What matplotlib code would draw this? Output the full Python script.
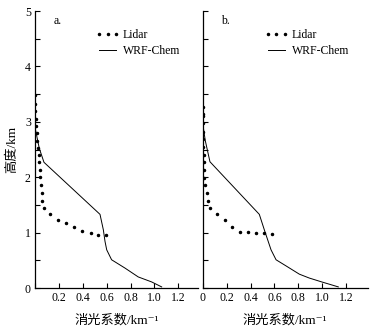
import matplotlib.pyplot as plt
import numpy as np

plt.rcParams['font.family'] = ['Liberation Serif', 'Noto Sans CJK SC', 'DejaVu Serif']

# panel a
lidar_a_x = [0.003, 0.003, 0.004, 0.006, 0.01, 0.014, 0.02, 0.026, 0.032, 0.036, 0.044, 0.044,
             0.05, 0.056, 0.059, 0.072, 0.128, 0.195, 0.259, 0.329, 0.396, 0.465, 0.53, 0.594]
lidar_a_y = [3.48, 3.33, 3.2, 3.06, 2.93, 2.8, 2.66, 2.53, 2.4, 2.27, 2.13, 2.0,
             1.86, 1.71, 1.58, 1.44, 1.33, 1.23, 1.17, 1.11, 1.03, 0.99, 0.96, 0.95]
wrf_a_x = [0.0, 0.036, 0.075, 0.544, 0.572, 0.586, 0.6, 0.641, 0.753, 0.864, 0.976, 1.06]
wrf_a_y = [2.9, 2.52, 2.27, 1.33, 1.05, 0.84, 0.69, 0.51, 0.36, 0.2, 0.11, 0.02]

# panel b
lidar_b_x = [0.004, 0.004, 0.004, 0.004, 0.004, 0.006, 0.006, 0.01, 0.01, 0.01, 0.013,
             0.016, 0.033, 0.041, 0.058, 0.116, 0.183, 0.244, 0.311, 0.376, 0.445, 0.515, 0.579]
lidar_b_y = [3.27, 3.15, 3.10, 2.98, 2.82, 2.69, 2.55, 2.41, 2.27, 2.13, 1.99,
             1.86, 1.72, 1.58, 1.44, 1.33, 1.23, 1.11, 1.02, 1.005, 0.995, 0.987, 0.98]
wrf_b_x = [0.0, 0.021, 0.06, 0.473, 0.515, 0.543, 0.571, 0.613, 0.696, 0.808, 0.891, 0.995, 1.134]
wrf_b_y = [2.96, 2.66, 2.28, 1.33, 1.05, 0.87, 0.69, 0.51, 0.40, 0.25, 0.18, 0.11, 0.02]

xticks = [0, 0.2, 0.4, 0.6, 0.8, 1.0, 1.2]
xlabel = '消光系数/km⁻¹'

fig = plt.figure(figsize=(3.74, 3.32), dpi=100)
ax1 = fig.add_axes([0.0936, 0.1325, 0.4345, 0.834])
ax2 = fig.add_axes([0.5422, 0.1325, 0.441, 0.834])

panels = [(ax1, lidar_a_x, lidar_a_y, wrf_a_x, wrf_a_y, 'a.', 1.36),
          (ax2, lidar_b_x, lidar_b_y, wrf_b_x, wrf_b_y, 'b.', 1.38)]

for ax, lx, ly, wx, wy, tag, xmax in panels:
    ax.plot(lx, ly, 'k.', ms=3, lw=0, label='Lidar')
    ax.plot(wx, wy, 'k-', lw=0.7, label='WRF-Chem')
    ax.set_xlim(0, xmax)
    ax.set_ylim(0, 5)
    ax.spines['top'].set_visible(False)
    ax.spines['right'].set_visible(False)
    ax.spines['left'].set_linewidth(0.9)
    ax.spines['bottom'].set_linewidth(0.9)
    ax.set_xticks(xticks)
    ax.set_yticks(np.arange(0, 5.01, 1))
    ax.set_yticks(np.arange(0.5, 5, 1), minor=True)
    ax.tick_params(which='both', direction='in', length=3.5, width=0.8, labelsize=8.5, pad=3)
    ax.set_xlabel(xlabel, fontsize=9.5, labelpad=7)
    ax.text(0.14, 0.965, tag, transform=ax.transAxes, fontsize=8.5, ha='center', va='center')
    ax.legend(loc='upper left', bbox_to_anchor=(0.375, 0.935), frameon=False, fontsize=8.5,
              numpoints=3, handlelength=2.0, handletextpad=0.3, labelspacing=0.3,
              borderpad=0, borderaxespad=0)

ax1.set_xticklabels([''] + ['%.1f' % v for v in xticks[1:]])
ax1.set_ylabel('高度/km', fontsize=9.5, labelpad=5)
ax2.set_xticklabels(['0'] + ['%.1f' % v for v in xticks[1:]])
ax2.tick_params(axis='y', labelleft=False)
ax2.set_yticks(np.arange(0, 5.01, 0.5))

fig.savefig('out.png', dpi=100)
